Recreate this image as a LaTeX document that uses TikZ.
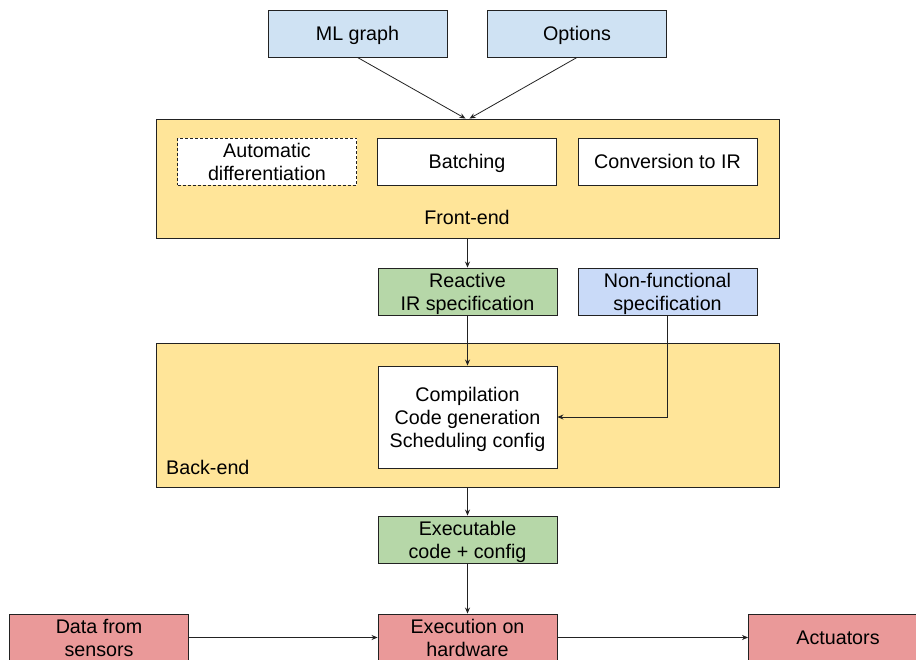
\documentclass[tikz,border=0pt]{standalone}
\usepackage{fontspec}
\setmainfont{Liberation Sans}
\usetikzlibrary{arrows.meta}

\definecolor{inputblue}{HTML}{CFE2F3}
\definecolor{specblue}{HTML}{C9DAF8}
\definecolor{stagegreen}{HTML}{B6D7A8}
\definecolor{stageyellow}{HTML}{FFE599}
\definecolor{hwred}{HTML}{EA9999}
\definecolor{edge}{HTML}{222222}

\tikzset{
  box/.style={draw=edge, line width=0.9pt, align=center, inner sep=0pt,
              minimum width=179pt, minimum height=47pt, text depth=0pt,
              font=\fontsize{19.7}{23}\selectfont},
  inbox/.style={box, fill=inputblue},
  specbox/.style={box, fill=specblue},
  artbox/.style={box, fill=stagegreen},
  hwbox/.style={box, fill=hwred},
  stepbox/.style={box, fill=white},
  stage/.style={draw=edge, line width=0.9pt, fill=stageyellow, inner sep=0pt,
                minimum width=623pt},
  lbl/.style={inner sep=0pt, text depth=0pt, font=\fontsize{19.7}{23}\selectfont},
  flow/.style={draw=edge, line width=0.8pt,
               -{Stealth[length=6pt,width=5pt]}}
}

\begin{document}
\begin{tikzpicture}[x=1pt,y=-1pt]
  \clip (0,0) rectangle (916,660);
  \fill[white] (0,0) rectangle (916,660);

  % inputs
  \node[inbox] (ml)  at (357.5,33.5) {ML graph};
  \node[inbox] (opt) at (577,33.5)   {Options};

  % front-end stage
  \node[stage, minimum height=119pt] (front) at (467.5,178.5) {};
  \node[stepbox, dashed, dash pattern=on 3pt off 2pt] (ad) at (267,161.5)
       {Automatic\\differentiation};
  \node[stepbox] (batch) at (467,161.5) {Batching};
  \node[stepbox] (conv)  at (667.5,161.5) {Conversion to IR};
  \node[lbl] (frontlbl) at (467,217) {Front-end};

  % specifications
  \node[artbox]  (ir) at (467.5,291.5) {Reactive\\IR specification};
  \node[specbox] (nf) at (667.5,291.5) {Non-functional\\specification};

  % back-end stage
  \node[stage, minimum height=144pt] (back) at (467.5,415) {};
  \node[stepbox, minimum height=102pt] (comp) at (467.5,417)
       {Compilation\\Code generation\\Scheduling config};
  \node[lbl, anchor=west] (backlbl) at (166,467) {Back-end};

  % outputs
  \node[artbox] (code) at (467.5,539.5) {Executable\\code + config};
  \node[hwbox] (exec) at (467.5,637.5) {Execution on\\hardware};
  \node[hwbox] (sens) at (99,637.5)    {Data from\\sensors};
  \node[hwbox] (act)  at (838,637.5)   {Actuators};

  % connectors
  \draw[flow] (ml.south)  -- ([xshift=-2pt]front.north);
  \draw[flow] (opt.south) -- ([xshift=2pt]front.north);
  \draw[flow] (front.south) -- (ir.north);
  \draw[flow] (ir.south) -- (comp.north);
  \draw[flow] (nf.south) |- (comp.east);
  \draw[flow] (back.south) -- (code.north);
  \draw[flow] (code.south) -- (exec.north);
  \draw[flow] (sens.east) -- (exec.west);
  \draw[flow] (exec.east) -- (act.west);
\end{tikzpicture}
\end{document}
